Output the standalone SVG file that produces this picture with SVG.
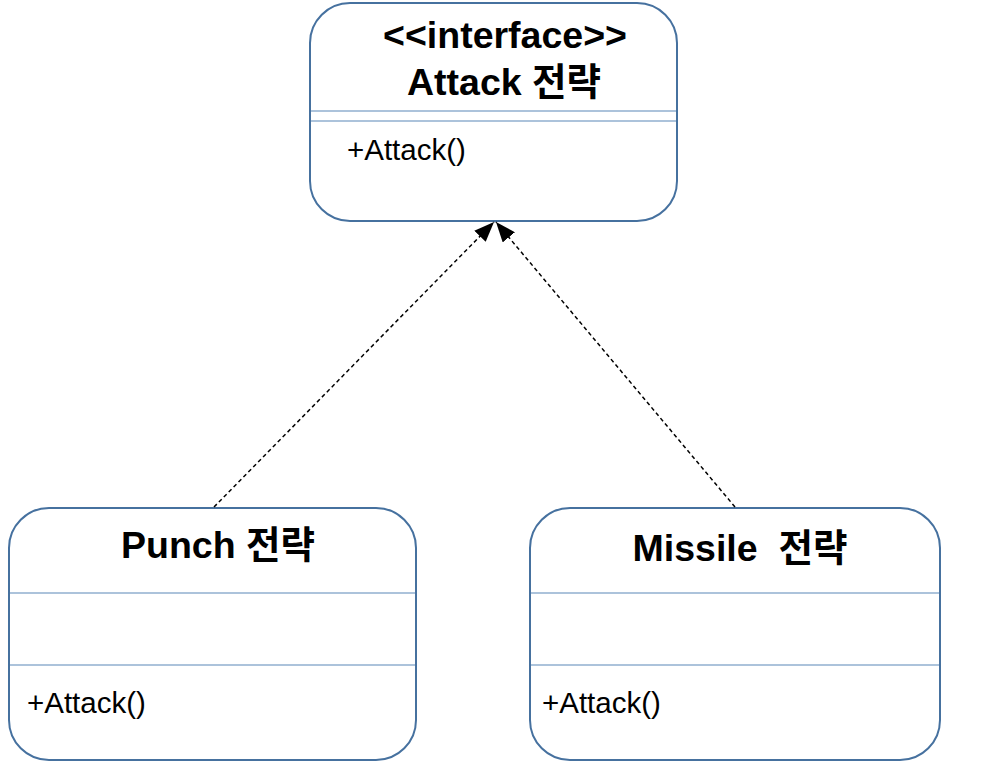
<svg xmlns="http://www.w3.org/2000/svg" width="988" height="762" viewBox="0 0 988 762">
<style>
.box{fill:#fff;stroke:#46719f;stroke-width:2}
.div{stroke:#5b88b8;stroke-width:1.2}
.t{font-family:"Liberation Sans","Noto Sans CJK KR",sans-serif;fill:#000}
.b{font-weight:bold;font-size:37.5px}
.m{font-size:29.5px}
.c{stroke:#000;stroke-width:1.5;stroke-dasharray:4 3;fill:none}
</style>
<defs>
<marker id="ah2" viewBox="0 0 20 16" refX="20" refY="8" markerWidth="20" markerHeight="16" markerUnits="userSpaceOnUse" orient="auto">
<path d="M0,0 L20,8 L0,16 z" fill="#000"/>
</marker>
</defs>
<g id="attack">
<rect class="box" x="310" y="3" width="367" height="218" rx="40"/>
<line class="div" x1="311" y1="111" x2="676" y2="111"/>
<line class="div" x1="311" y1="121" x2="676" y2="121"/>
<text class="t b" x="505" y="48" text-anchor="middle">&lt;&lt;interface&gt;&gt;</text>
<text class="t b" x="504" y="95" text-anchor="middle">Attack 전략</text>
<text class="t m" x="347" y="160">+Attack()</text>
</g>
<g id="punch">
<rect class="box" x="9" y="508" width="407" height="252" rx="40"/>
<line class="div" x1="10" y1="593" x2="415" y2="593"/>
<line class="div" x1="10" y1="665" x2="415" y2="665"/>
<text class="t b" x="218" y="558" text-anchor="middle">Punch 전략</text>
<text class="t m" x="27" y="713">+Attack()</text>
</g>
<g id="missile">
<rect class="box" x="530" y="508" width="410" height="252" rx="40"/>
<line class="div" x1="531" y1="593" x2="939" y2="593"/>
<line class="div" x1="531" y1="665" x2="939" y2="665"/>
<text class="t b" x="740" y="561" text-anchor="middle" xml:space="preserve">Missile  전략</text>
<text class="t m" x="542" y="713">+Attack()</text>
</g>
<g id="connectors">
<line class="c" x1="214" y1="507" x2="494" y2="222" marker-end="url(#ah2)"/>
<line class="c" x1="735" y1="507" x2="496" y2="222" marker-end="url(#ah2)"/>
</g>
</svg>
